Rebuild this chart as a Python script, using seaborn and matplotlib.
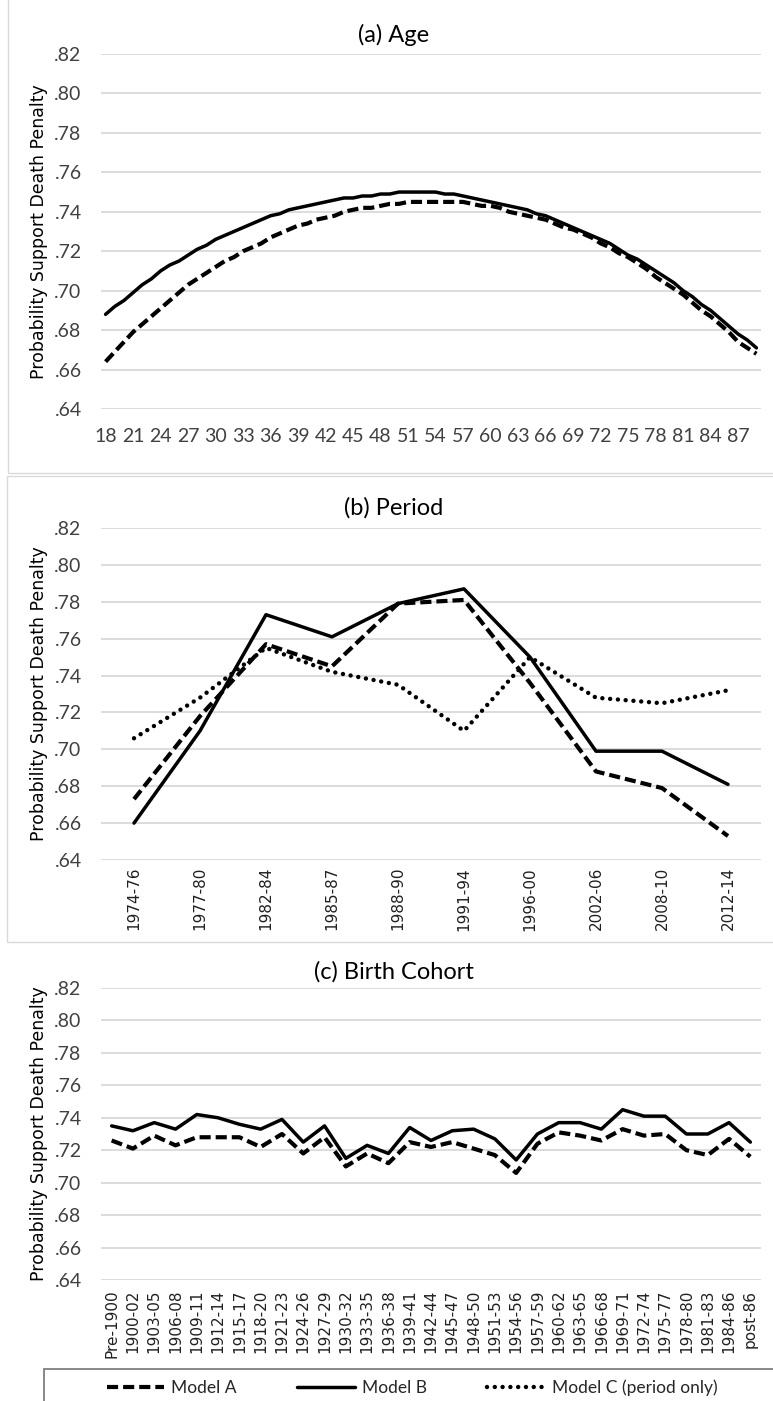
import matplotlib
matplotlib.use("Agg")
import matplotlib.pyplot as plt
from matplotlib.lines import Line2D
from matplotlib.patches import Rectangle
from matplotlib.ticker import FuncFormatter
import seaborn as sns

# ---------------- data ----------------
ages = list(range(18, 90))
age_model_a = [0.664, 0.669, 0.674, 0.679, 0.683, 0.687, 0.691, 0.695, 0.699, 0.703,
               0.706, 0.709, 0.712, 0.715, 0.717, 0.720, 0.722, 0.724, 0.727, 0.729,
               0.731, 0.733, 0.734, 0.736, 0.737, 0.738, 0.740, 0.741, 0.742, 0.742,
               0.743, 0.744, 0.744, 0.745, 0.745, 0.745, 0.745, 0.745, 0.745, 0.745,
               0.744, 0.743, 0.743, 0.742, 0.740, 0.739, 0.738, 0.737, 0.736, 0.734,
               0.732, 0.731, 0.729, 0.727, 0.724, 0.722, 0.719, 0.717, 0.714, 0.711,
               0.707, 0.704, 0.701, 0.698, 0.694, 0.690, 0.687, 0.683, 0.679, 0.674,
               0.671, 0.668]
age_model_b = [0.688, 0.692, 0.695, 0.699, 0.703, 0.706, 0.710, 0.713, 0.715, 0.718,
               0.721, 0.723, 0.726, 0.728, 0.730, 0.732, 0.734, 0.736, 0.738, 0.739,
               0.741, 0.742, 0.743, 0.744, 0.745, 0.746, 0.747, 0.747, 0.748, 0.748,
               0.749, 0.749, 0.750, 0.750, 0.750, 0.750, 0.750, 0.749, 0.749, 0.748,
               0.747, 0.746, 0.745, 0.744, 0.743, 0.742, 0.741, 0.739, 0.738, 0.736,
               0.734, 0.732, 0.730, 0.728, 0.726, 0.724, 0.721, 0.718, 0.716, 0.713,
               0.710, 0.707, 0.704, 0.700, 0.697, 0.693, 0.690, 0.686, 0.682, 0.678,
               0.675, 0.671]

periods = ["1974-76", "1977-80", "1982-84", "1985-87", "1988-90",
           "1991-94", "1996-00", "2002-06", "2008-10", "2012-14"]
period_model_a = [0.673, 0.718, 0.757, 0.745, 0.779, 0.781, 0.736, 0.688, 0.679, 0.653]
period_model_b = [0.660, 0.710, 0.773, 0.761, 0.779, 0.787, 0.750, 0.699, 0.699, 0.681]
period_model_c = [0.706, 0.728, 0.755, 0.742, 0.735, 0.710, 0.750, 0.728, 0.725, 0.732]

cohorts = ["Pre-1900", "1900-02", "1903-05", "1906-08", "1909-11", "1912-14",
           "1915-17", "1918-20", "1921-23", "1924-26", "1927-29", "1930-32",
           "1933-35", "1936-38", "1939-41", "1942-44", "1945-47", "1948-50",
           "1951-53", "1954-56", "1957-59", "1960-62", "1963-65", "1966-68",
           "1969-71", "1972-74", "1975-77", "1978-80", "1981-83", "1984-86",
           "post-86"]
cohort_model_a = [0.726, 0.721, 0.729, 0.723, 0.728, 0.728, 0.728, 0.722, 0.730,
                  0.718, 0.728, 0.710, 0.718, 0.712, 0.725, 0.722, 0.725, 0.721,
                  0.717, 0.706, 0.724, 0.731, 0.729, 0.726, 0.733, 0.729, 0.730,
                  0.720, 0.717, 0.727, 0.716]
cohort_model_b = [0.735, 0.732, 0.737, 0.733, 0.742, 0.740, 0.736, 0.733, 0.739,
                  0.725, 0.735, 0.715, 0.723, 0.718, 0.734, 0.726, 0.732, 0.733,
                  0.727, 0.714, 0.730, 0.737, 0.737, 0.733, 0.745, 0.741, 0.741,
                  0.730, 0.730, 0.737, 0.725]

y_ticks = [0.64, 0.66, 0.68, 0.70, 0.72, 0.74, 0.76, 0.78, 0.80, 0.82]
legend_labels = ["Model A", "Model B", "Model C (period only)"]
titles = ["(a) Age", "(b) Period", "(c) Birth Cohort"]
y_label = "Probability Support Death Penalty"

# ---------------- style ----------------
sns.set_style("white")
NARROW = ["Lato", "DejaVu Sans"]
WIDE = ["DejaVu Sans"]
plt.rcParams["font.family"] = NARROW
plt.rcParams["lines.scale_dashes"] = False

W, H = 773, 1401
fig = plt.figure(figsize=(W / 100, H / 100), dpi=100)

STYLE_A = dict(linewidth=3.0, linestyle=(0, (8.0, 3.6)))
STYLE_B = dict(linewidth=2.5, linestyle="-")
STYLE_C = dict(linewidth=3.2, linestyle=(0, (0.01, 5.6)), dash_capstyle="round")


def fx(px):
    return px / W


def fy(py):
    return 1 - py / H


def make_axes(top, bottom, left=101, right=761):
    return fig.add_axes([fx(left), fy(bottom), fx(right - left), (bottom - top) / H])


def style_axes(ax):
    ax.set_ylim(0.64, 0.82)
    ax.set_yticks(y_ticks)
    ax.yaxis.set_major_formatter(FuncFormatter(lambda v, _: f"{v:.2f}"[1:]))
    ax.grid(axis="y", color="#d9d9d9", linewidth=1.3)
    ax.grid(axis="x", visible=False)
    ax.set_axisbelow(True)
    for s in ax.spines.values():
        s.set_visible(False)
    ax.tick_params(axis="y", length=0, pad=14, labelsize=14, labelcolor="#404040")
    ax.set_xlabel("")
    ax.set_ylabel("")


def line(ax, x, y, style):
    sns.lineplot(x=x, y=y, ax=ax, color="black", sort=False, errorbar=None, **style)


# panel (a): age
ax_a = make_axes(54, 409)
line(ax_a, ages, age_model_a, STYLE_A)
line(ax_a, ages, age_model_b, STYLE_B)
style_axes(ax_a)
ax_a.set_xlim(17.5, 89.5)
ax_a.set_xticks(ages[::3])
ax_a.set_xticklabels([str(a) for a in ages[::3]])
ax_a.tick_params(axis="x", length=0, pad=14, labelsize=14, labelcolor="#404040")

# panel (b): period
ax_b = make_axes(528, 860)
line(ax_b, periods, period_model_a, STYLE_A)
line(ax_b, periods, period_model_b, STYLE_B)
line(ax_b, periods, period_model_c, STYLE_C)
style_axes(ax_b)
ax_b.set_xlim(-0.5, len(periods) - 0.5)
ax_b.set_xticks(range(len(periods)))
ax_b.set_xticklabels(periods, rotation=90, family=WIDE, fontsize=11, color="#202020")
ax_b.tick_params(axis="x", length=0, pad=5)

# panel (c): birth cohort
ax_c = make_axes(988, 1280)
line(ax_c, cohorts, cohort_model_a, STYLE_A)
line(ax_c, cohorts, cohort_model_b, STYLE_B)
style_axes(ax_c)
ax_c.set_xlim(-0.5, len(cohorts) - 0.5)
ax_c.set_xticks(range(len(cohorts)))
ax_c.set_xticklabels(cohorts, rotation=90, family=WIDE, fontsize=11, color="#202020")
ax_c.tick_params(axis="x", length=0, pad=7)

# titles and y labels
for title, ty, (top, bottom) in zip(titles, [35, 508, 972],
                                    [(54, 409), (528, 860), (988, 1280)]):
    fig.text(fx(394), fy(ty), title, ha="center", va="center", fontsize=17,
             color="#000000")
    fig.text(fx(39), fy((top + bottom) / 2), y_label, rotation=90, ha="center",
             va="center", family=WIDE, fontsize=12.5, color="#000000")

# chart-area borders
fig.patches.append(Rectangle((fx(8), fy(473)), fx(800), (473 + 5) / H,
                             transform=fig.transFigure, fill=False,
                             edgecolor="#d9d9d9", linewidth=1.0))
fig.patches.append(Rectangle((fx(7), fy(942)), fx(800), (942 - 476) / H,
                             transform=fig.transFigure, fill=False,
                             edgecolor="#d9d9d9", linewidth=1.0))
fig.patches.append(Rectangle((fx(44), fy(1420)), fx(800), (1420 - 1369) / H,
                             transform=fig.transFigure, fill=False,
                             edgecolor="#7f7f7f", linewidth=1.3))

# legend
handles = [Line2D([], [], color="black", **STYLE_A),
           Line2D([], [], color="black", **STYLE_B),
           Line2D([], [], color="black", **STYLE_C)]
fig.legend(handles, legend_labels, loc="center", bbox_to_anchor=(fx(412), fy(1388)),
           ncol=3, frameon=False, fontsize=12.5, handlelength=3.3,
           columnspacing=3.5, handletextpad=0.4)

fig.savefig("out.png", dpi=100, facecolor="white")
